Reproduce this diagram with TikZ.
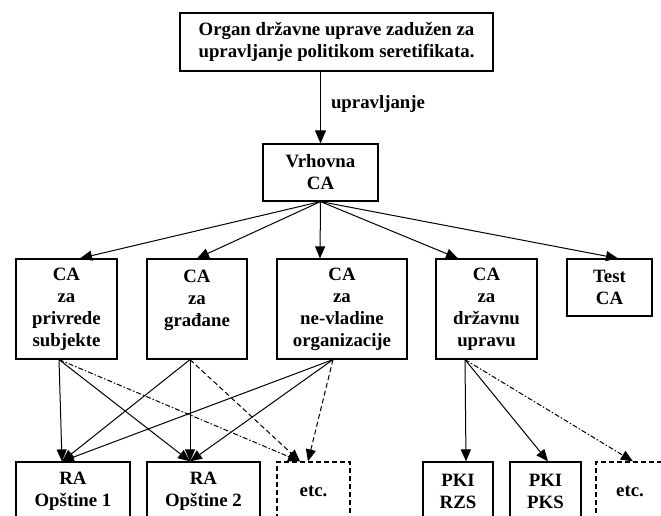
\documentclass[tikz,border=0pt]{standalone}
\usepackage{fontspec}
\setmainfont{Liberation Serif}
\usetikzlibrary{arrows.meta}

\tikzset{
    box/.style={draw, line width=1.2pt, align=center, inner sep=0pt,
        font=\fontsize{18.8}{22}\selectfont\bfseries},
    etcbox/.style={box, dashed, dash pattern=on 5pt off 3pt},
    link/.style={line width=1pt, -{Triangle[length=12pt,width=10pt]}},
    dlink/.style={link, dash pattern=on 5pt off 3pt},
    dotlink/.style={link, dash pattern=on 5pt off 2pt on 1.5pt off 2pt}
    }

\begin{document}
\begin{tikzpicture}[x=1pt, y=-1pt]
                \clip (0,0) rectangle (661,516);
                % Top level
                \node[box, minimum width=313pt, minimum height=58pt] (organ) at (336.5,42)
                    {Organ državne uprave zadužen za\\upravljanje politikom seretifikata.};
                \node[box, minimum width=115pt, minimum height=57pt] (vrh) at (320.5,172.5) {Vrhovna\\CA};
                % CA row
                \node[box, minimum width=101pt, minimum height=100pt] (privr) at (66.5,309) {CA\\za\\privrede\\subjekte};
                \node[box, minimum width=100pt, minimum height=100pt] (grad) at (197,309) {CA\\za\\građane\\\mbox{}};
                \node[box, minimum width=130pt, minimum height=100pt] (nevl) at (342,309) {CA\\za\\ne-vladine\\organizacije};
                \node[box, minimum width=101pt, minimum height=100pt] (drz) at (486.5,309) {CA\\za\\državnu\\upravu};
                \node[box, minimum width=85pt, minimum height=57pt] (test) at (609.5,287.5) {Test\\CA};
                % RA / PKI row
                \node[box, minimum width=114pt, minimum height=58pt] (ra1) at (73,491) {RA\\Opštine 1};
                \node[box, minimum width=113pt, minimum height=58pt] (ra2) at (203.5,491) {RA\\Opštine 2};
                \node[etcbox, minimum width=73pt, minimum height=58pt] (etca) at (313.5,491) {etc.};
                \node[box, minimum width=70pt, minimum height=58pt] (rzs) at (458,491) {PKI\\RZS};
                \node[box, minimum width=71pt, minimum height=58pt] (pks) at (545.5,491) {PKI\\PKS};
                \node[etcbox, minimum width=68pt, minimum height=58pt] (etcb) at (630,491) {etc.};

                % Connectors
                \draw[link, -{Triangle[length=13pt,width=11pt]}] (vrh.north |- organ.south) -- node[right=10pt, pos=0.45, inner sep=0pt, font=\fontsize{18.8}{22}\selectfont\bfseries] {upravljanje} (vrh.north);
                \draw[link] (vrh.south) -- ([xshift=13.5pt]privr.north);
                \draw[link] (vrh.south) -- (grad.north);
                \draw[link] (vrh.south) -- ([xshift=-22pt]nevl.north);
                \draw[link] (vrh.south) -- ([xshift=-28.5pt]drz.north);
                \draw[link] (vrh.south) -- ([xshift=8.5pt]test.north);

                \draw[link] ([xshift=-7.5pt]privr.south) -- ([xshift=-11pt]ra1.north);
                \draw[link] ([xshift=-7.5pt]privr.south) -- ([xshift=-13.5pt]ra2.north);
                \draw[dotlink] ([xshift=-7.5pt]privr.south) -- ([xshift=-13.5pt]etca.north);

                \draw[link] ([xshift=-7pt]grad.south) -- ([xshift=-11pt]ra1.north);
                \draw[link] ([xshift=-7pt]grad.south) -- ([xshift=-13.5pt]ra2.north);
                \draw[dlink] ([xshift=-7pt]grad.south) -- ([xshift=-13.5pt]etca.north);

                \draw[link] ([xshift=-9pt]nevl.south) -- ([xshift=-11pt]ra1.north);
                \draw[link] ([xshift=-9pt]nevl.south) -- ([xshift=-13.5pt]ra2.north);
                \draw[dlink] ([xshift=-9pt]nevl.south) -- ([xshift=-5.5pt]etca.north);

                \draw[link] ([xshift=-21.5pt]drz.south) -- ([xshift=8pt]rzs.north);
                \draw[link] ([xshift=-21.5pt]drz.south) -- ([xshift=2.5pt]pks.north);
                \draw[dotlink] ([xshift=-21.5pt]drz.south) -- ([xshift=3pt]etcb.north);
            \end{tikzpicture}
\end{document}
